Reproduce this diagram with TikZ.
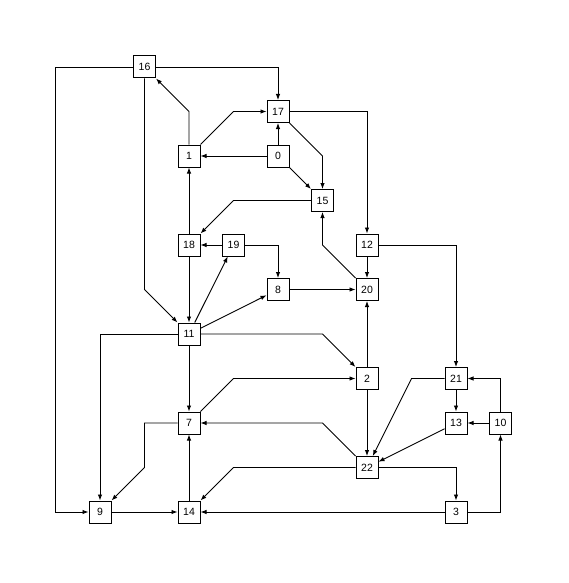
\documentclass[tikz,border=0pt]{standalone}
\usepackage{fontspec}
\setmainfont{Liberation Sans}
\usetikzlibrary{arrows.meta}
\begin{document}
\begin{tikzpicture}[x=1pt,y=-1pt,
  box/.style={draw,line width=1pt,minimum size=22pt,inner sep=0pt,fill=white,
    font=\fontsize{10.5}{12}\selectfont},
  e/.style={line width=0.9pt,-{Latex[length=6pt,width=4.5pt]}}]
\useasboundingbox (0,0) rectangle (568,583);
% grid: columns 44.5pt apart from x=100, rows 44.5pt apart from y=67
\node[box] (n16) at (144.5,67)    {16};
\node[box] (n17) at (278,111.5)   {17};
\node[box] (n1)  at (189,156)     {1};
\node[box] (n0)  at (278,156)     {0};
\node[box] (n15) at (322.5,200.5) {15};
\node[box] (n18) at (189,245)     {18};
\node[box] (n19) at (233.5,245)   {19};
\node[box] (n12) at (367,245)     {12};
\node[box] (n8)  at (278,289.5)   {8};
\node[box] (n20) at (367,289.5)   {20};
\node[box] (n11) at (189,334)     {11};
\node[box] (n2)  at (367,378.5)   {2};
\node[box] (n21) at (456,378.5)   {21};
\node[box] (n7)  at (189,423)     {7};
\node[box] (n13) at (456,423)     {13};
\node[box] (n10) at (500.5,423)   {10};
\node[box] (n22) at (367,467.5)   {22};
\node[box] (n9)  at (100,512)     {9};
\node[box] (n14) at (189,512)     {14};
\node[box] (n3)  at (456,512)     {3};
\coordinate (k16) at (55.5,67);
\coordinate (k21) at (411.5,378.5);

% connectors
\draw[e] (n16) -| (n17);
\draw[e] (n16.west) -- (k16) |- (n9);
\draw[e] (n16.south) -- (n16 |- n8) -- (n11.north west);
\draw[e] (n1.north) -- (n1 |- n17) -- (n16.south east);
\draw[e] (n1.north east) -- (n19 |- n17) -- (n17.west);
\draw[e] (n0) -- (n17);
\draw[e] (n0) -- (n1);
\draw[e] (n0.south east) -- (n15.north west);
\draw[e] (n17.south east) -- (n15 |- n0) -- (n15.north);
\draw[e] (n17) -| (n12);
\draw[e] (n15.west) -- (n19 |- n15) -- (n18.north east);
\draw[e] (n20.north west) -- (n15 |- n12) -- (n15.south);
\draw[e] (n18) -- (n1);
\draw[e] (n19) -- (n18);
\draw[e] (n19) -| (n8);
\draw[e] (n18) -- (n11);
\draw[e] (n11) -- (n19);
\draw[e] (n11) -- (n8);
\draw[e] (n8) -- (n20);
\draw[e] (n12) -- (n20);
\draw[e] (n12) -| (n21);
\draw[e] (n2) -- (n20);
\draw[e] (n11.east) -- (n15 |- n11) -- (n2.north west);
\draw[e] (n11) -| (n9);
\draw[e] (n11) -- (n7);
\draw[e] (n7.north east) -- (n19 |- n2) -- (n2.west);
\draw[e] (n22.north west) -- (n15 |- n7) -- (n7.east);
\draw[e] (n7.west) -- (n16 |- n7) -- (n16 |- n22) -- (n9.north east);
\draw[e] (n14) -- (n7);
\draw[e] (n22.west) -- (n19 |- n22) -- (n14.north east);
\draw[e] (n9) -- (n14);
\draw[e] (n3) -- (n14);
\draw[e] (n2) -- (n22);
\draw[e] (n21.west) -- (k21) -- (n22);
\draw[e] (n13) -- (n22);
\draw[e] (n21) -- (n13);
\draw[e] (n10) -- (n13);
\draw[e] (n10) |- (n21);
\draw[e] (n3) -| (n10);
\draw[e] (n22) -| (n3);
\end{tikzpicture}
\end{document}
